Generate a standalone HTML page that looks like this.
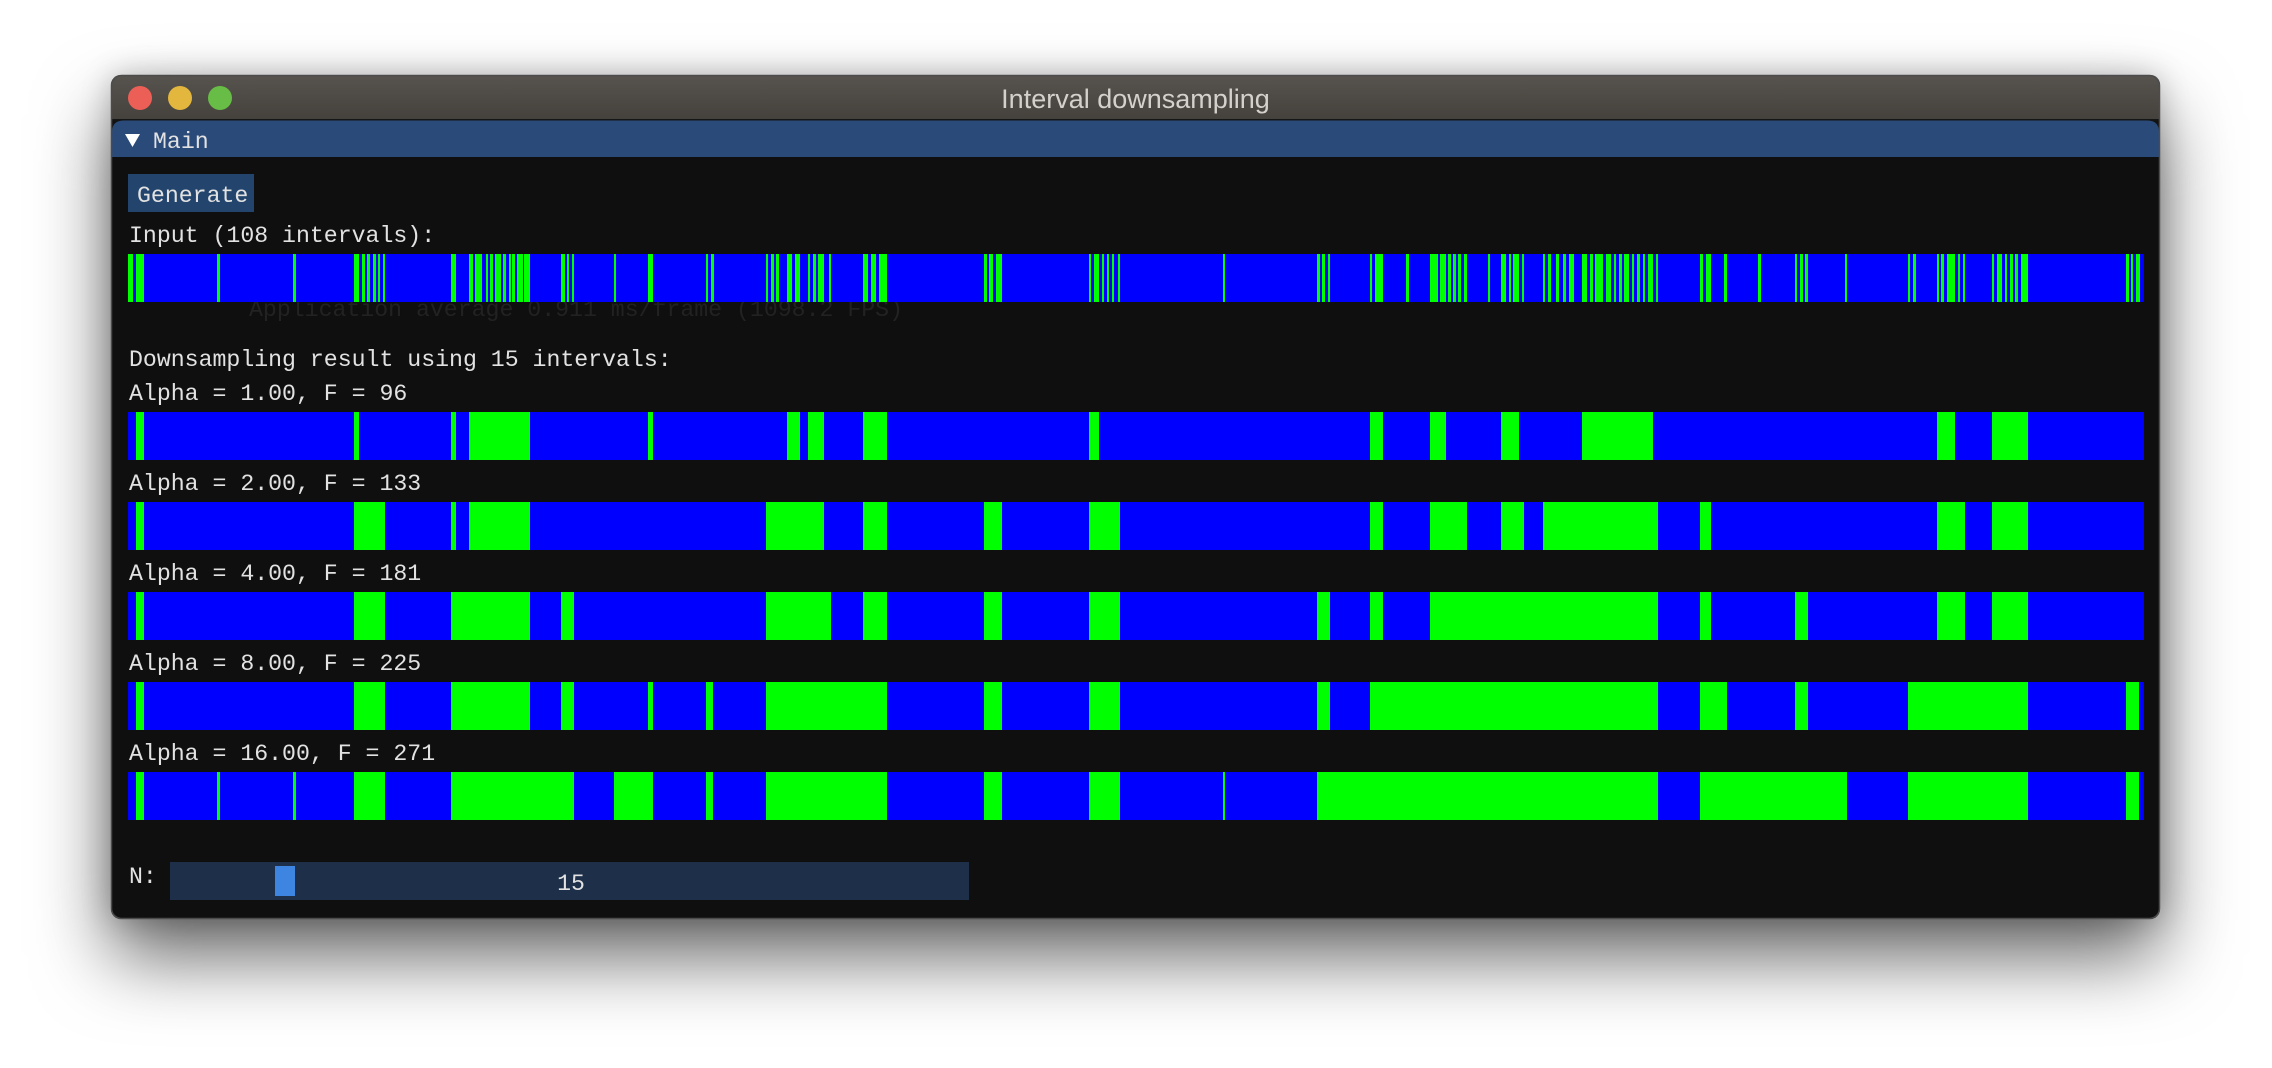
<!DOCTYPE html>
<html>
<head>
<meta charset="utf-8">
<style>
  html, body { margin: 0; padding: 0; background: #ffffff; }
  body { width: 2272px; height: 1068px; position: relative; overflow: hidden; }
  #shadow {
    position: absolute; left: 111px; top: 75px; width: 2049px; height: 844px;
    border-radius: 10px; background: #111;
    box-shadow: 0 0 30px rgba(0,0,0,0.22), 0 38px 75px rgba(0,0,0,0.6);
  }
  svg { position: absolute; left: 0; top: 0; }
  .t { font-family: "Liberation Mono", "DejaVu Sans Mono", monospace; font-size: 23.2px; fill: #e2e2e2; }
  .g { fill: #00ff00; }
  .b { fill: #0000ff; }
</style>
</head>
<body>
<div id="shadow"></div>
<svg width="2272" height="1068" viewBox="0 0 2272 1068" xmlns="http://www.w3.org/2000/svg">
  <defs>
    <linearGradient id="tb" x1="0" y1="0" x2="0" y2="1">
      <stop offset="0" stop-color="#57534e"/>
      <stop offset="1" stop-color="#45423d"/>
    </linearGradient>
    <clipPath id="win"><rect x="111" y="75" width="2049" height="844" rx="10" ry="10"/></clipPath>
  </defs>
  <g clip-path="url(#win)">
    <rect x="111" y="75" width="2049" height="844" fill="#121212"/>
    <rect x="111" y="75" width="2049" height="44" fill="url(#tb)"/>
    <rect x="111" y="119" width="2049" height="1.5" fill="#161616"/>
    <path d="M112,157 V132 Q112,120.5 124,120.5 H2147 Q2159,120.5 2159,132 V157 Z" fill="#2a4a79"/>
    <rect x="112" y="157" width="2047" height="761" fill="#0f0f0f"/>
  </g>
  <rect x="111.5" y="75.5" width="2048" height="843" rx="10" ry="10" fill="none" stroke="#4c4c4c" stroke-width="1.5"/>

  <circle cx="140" cy="98" r="12" fill="#ec5f57"/>
  <circle cx="180" cy="98" r="12" fill="#e3b63e"/>
  <circle cx="220" cy="98" r="12" fill="#68bd46"/>
  <text x="1135.5" y="108" text-anchor="middle" font-family="'Liberation Sans', Arial, sans-serif" font-size="27" fill="#d4d1cc">Interval downsampling</text>

  <polygon points="125,134 140,134 132.5,147" fill="#ffffff"/>
  <text class="t" x="153" y="148">Main</text>

  <rect x="128" y="174" width="126" height="38" fill="#23456d"/>
  <text class="t" x="137" y="202">Generate</text>

  <text class="t" x="129" y="242">Input (108 intervals):</text>
  <text class="t" x="249" y="316" style="fill:#222222">Application average 0.911 ms/frame (1098.2 FPS)</text>

  <g shape-rendering="crispEdges">
    <!-- Input bar -->
    <rect class="b" x="128" y="254" width="2016" height="48"/>
    <path class="g" transform="translate(0,254)" d="M128 0h5v48h-5zM136 0h8v48h-8zM217 0h3v48h-3zM293 0h3v48h-3zM354 0h5v48h-5zM362 0h3v48h-3zM367 0h3v48h-3zM373 0h3v48h-3zM378 0h2v48h-2zM383 0h2v48h-2zM451 0h5v48h-5zM469 0h4v48h-4zM475 0h7v48h-7zM486 0h2v48h-2zM490 0h3v48h-3zM495 0h6v48h-6zM503 0h3v48h-3zM509 0h2v48h-2zM512 0h3v48h-3zM517 0h6v48h-6zM524 0h6v48h-6zM561 0h4v48h-4zM567 0h2v48h-2zM572 0h2v48h-2zM614 0h2v48h-2zM648 0h5v48h-5zM706 0h2v48h-2zM711 0h3v48h-3zM766 0h2v48h-2zM771 0h3v48h-3zM776 0h3v48h-3zM787 0h5v48h-5zM795 0h5v48h-5zM808 0h2v48h-2zM813 0h3v48h-3zM818 0h6v48h-6zM829 0h2v48h-2zM863 0h5v48h-5zM871 0h5v48h-5zM879 0h8v48h-8zM984 0h3v48h-3zM989 0h4v48h-4zM996 0h6v48h-6zM1089 0h2v48h-2zM1094 0h5v48h-5zM1102 0h2v48h-2zM1107 0h2v48h-2zM1112 0h2v48h-2zM1118 0h2v48h-2zM1223 0h2v48h-2zM1317 0h3v48h-3zM1322 0h3v48h-3zM1328 0h2v48h-2zM1370 0h2v48h-2zM1375 0h8v48h-8zM1406 0h3v48h-3zM1430 0h8v48h-8zM1440 0h6v48h-6zM1448 0h3v48h-3zM1453 0h3v48h-3zM1458 0h3v48h-3zM1464 0h3v48h-3zM1488 0h2v48h-2zM1501 0h5v48h-5zM1509 0h2v48h-2zM1513 0h6v48h-6zM1522 0h2v48h-2zM1543 0h2v48h-2zM1548 0h3v48h-3zM1556 0h3v48h-3zM1563 0h3v48h-3zM1569 0h5v48h-5zM1582 0h5v48h-5zM1590 0h3v48h-3zM1595 0h8v48h-8zM1606 0h5v48h-5zM1614 0h2v48h-2zM1619 0h3v48h-3zM1624 0h5v48h-5zM1632 0h2v48h-2zM1637 0h3v48h-3zM1643 0h2v48h-2zM1648 0h5v48h-5zM1656 0h2v48h-2zM1700 0h3v48h-3zM1706 0h5v48h-5zM1724 0h3v48h-3zM1758 0h3v48h-3zM1795 0h2v48h-2zM1800 0h3v48h-3zM1805 0h3v48h-3zM1845 0h2v48h-2zM1908 0h2v48h-2zM1913 0h3v48h-3zM1937 0h2v48h-2zM1941 0h3v48h-3zM1947 0h8v48h-8zM1958 0h2v48h-2zM1963 0h2v48h-2zM1992 0h2v48h-2zM1997 0h5v48h-5zM2005 0h2v48h-2zM2010 0h3v48h-3zM2015 0h3v48h-3zM2021 0h7v48h-7zM2126 0h3v48h-3zM2131 0h2v48h-2zM2136 0h4v48h-4z"/>

    <!-- Alpha 1 -->
    <rect class="b" x="128" y="412" width="2016" height="48"/>
    <path class="g" transform="translate(0,412)" d="M136 0h8v48h-8zM354 0h5v48h-5zM451 0h5v48h-5zM469 0h61v48h-61zM648 0h5v48h-5zM787 0h13v48h-13zM808 0h16v48h-16zM863 0h24v48h-24zM1089 0h10v48h-10zM1370 0h13v48h-13zM1430 0h16v48h-16zM1501 0h18v48h-18zM1582 0h71v48h-71zM1937 0h18v48h-18zM1992 0h36v48h-36z"/>

    <!-- Alpha 2 -->
    <rect class="b" x="128" y="502" width="2016" height="48"/>
    <path class="g" transform="translate(0,502)" d="M136 0h8v48h-8zM354 0h31v48h-31zM451 0h5v48h-5zM469 0h61v48h-61zM766 0h58v48h-58zM863 0h24v48h-24zM984 0h18v48h-18zM1089 0h31v48h-31zM1370 0h13v48h-13zM1430 0h37v48h-37zM1501 0h23v48h-23zM1543 0h115v48h-115zM1700 0h11v48h-11zM1937 0h28v48h-28zM1992 0h36v48h-36z"/>

    <!-- Alpha 4 -->
    <rect class="b" x="128" y="592" width="2016" height="48"/>
    <path class="g" transform="translate(0,592)" d="M136 0h8v48h-8zM354 0h31v48h-31zM451 0h79v48h-79zM561 0h13v48h-13zM766 0h65v48h-65zM863 0h24v48h-24zM984 0h18v48h-18zM1089 0h31v48h-31zM1317 0h13v48h-13zM1370 0h13v48h-13zM1430 0h228v48h-228zM1700 0h11v48h-11zM1795 0h13v48h-13zM1937 0h28v48h-28zM1992 0h36v48h-36z"/>

    <!-- Alpha 8 -->
    <rect class="b" x="128" y="682" width="2016" height="48"/>
    <path class="g" transform="translate(0,682)" d="M136 0h8v48h-8zM354 0h31v48h-31zM451 0h79v48h-79zM561 0h13v48h-13zM648 0h5v48h-5zM706 0h7v48h-7zM766 0h121v48h-121zM984 0h18v48h-18zM1089 0h31v48h-31zM1317 0h13v48h-13zM1370 0h288v48h-288zM1700 0h27v48h-27zM1795 0h13v48h-13zM1908 0h120v48h-120zM2126 0h13v48h-13z"/>

    <!-- Alpha 16 -->
    <rect class="b" x="128" y="772" width="2016" height="48"/>
    <path class="g" transform="translate(0,772)" d="M136 0h8v48h-8zM217 0h3v48h-3zM293 0h3v48h-3zM354 0h31v48h-31zM451 0h123v48h-123zM614 0h39v48h-39zM706 0h7v48h-7zM766 0h121v48h-121zM984 0h18v48h-18zM1089 0h31v48h-31zM1223 0h2v48h-2zM1317 0h341v48h-341zM1700 0h147v48h-147zM1908 0h120v48h-120zM2126 0h13v48h-13z"/>
  </g>

  <text class="t" x="129" y="366">Downsampling result using 15 intervals:</text>
  <text class="t" x="129" y="400">Alpha = 1.00, F = 96</text>
  <text class="t" x="129" y="490">Alpha = 2.00, F = 133</text>
  <text class="t" x="129" y="580">Alpha = 4.00, F = 181</text>
  <text class="t" x="129" y="670">Alpha = 8.00, F = 225</text>
  <text class="t" x="129" y="760">Alpha = 16.00, F = 271</text>

  <text class="t" x="129" y="883">N:</text>
  <rect x="170" y="862" width="799" height="38" fill="#1d2f49" shape-rendering="crispEdges"/>
  <rect x="275" y="866" width="20" height="30" fill="#3d85e0" shape-rendering="crispEdges"/>
  <text class="t" x="571" y="890" text-anchor="middle">15</text>
</svg>
</body>
</html>
